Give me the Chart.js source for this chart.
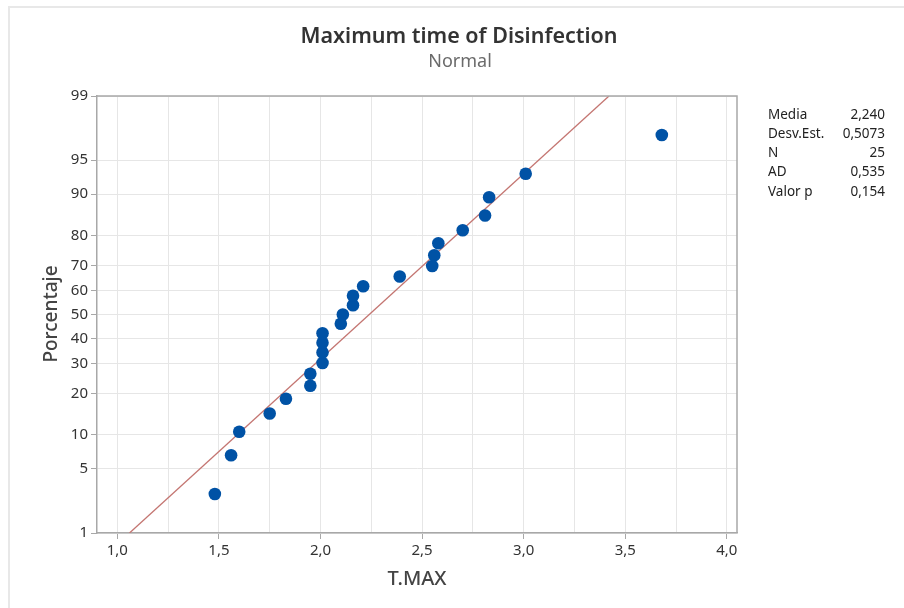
<html>

<head>
    <meta charset="utf-8">
    <title>Maximum time of Disinfection</title>
    <script src="https://cdn.jsdelivr.net/npm/chart.js@4.4.1/dist/chart.umd.min.js"></script>
    <style>
        body {
            margin: 0;
            background: #ffffff;
        }
    </style>
</head>

<body>
    <canvas id="myChart" width="904" height="608"></canvas>

    <script>
        // T.MAX values (sorted)
        var tmax = [1.48, 1.56, 1.60, 1.75, 1.83, 1.95, 1.95, 2.01, 2.01, 2.01, 2.01, 2.10, 2.11,
            2.16, 2.16, 2.21, 2.39, 2.55, 2.56, 2.58, 2.70, 2.81, 2.83, 3.01, 3.68];
        // percentage (y position) of each point
        var pct = [2.8, 6.7, 10.6, 14.6, 18.5, 22.4, 26.4, 30.3, 34.3, 38.2, 42.1, 46.1, 50.0,
            53.9, 57.9, 61.8, 65.7, 69.7, 73.6, 77.6, 81.5, 85.4, 89.4, 93.3, 97.2];

        // fitted normal line, end points
        var fitX = [1.060, 3.420];
        var fitPct = [1, 99];

        // ticks
        var yTickPct = [1, 5, 10, 20, 30, 40, 50, 60, 70, 80, 90, 95, 99];
        var xTicks = [1.0, 1.25, 1.5, 1.75, 2.0, 2.25, 2.5, 2.75, 3.0, 3.25, 3.5, 3.75, 4.0];

        // stats box
        var statLabels = ['Media', 'Desv.Est.', 'N', 'AD', 'Valor p'];
        var statValues = ['2,240', '0,5073', '25', '0,535', '0,154'];

        var FONT = "'Noto Sans', 'DejaVu Sans', sans-serif";

        // inverse normal cdf (Acklam), p in (0,1)
        function normInv(p) {
            var a = [-3.969683028665376e+01, 2.209460984245205e+02, -2.759285104469687e+02,
                1.383577518672690e+02, -3.066479806614716e+01, 2.506628277459239e+00];
            var b = [-5.447609879822406e+01, 1.615858368580409e+02, -1.556989798598866e+02,
                6.680131188771972e+01, -1.328068155288572e+01];
            var c = [-7.784894002430293e-03, -3.223964580411365e-01, -2.400758277161838e+00,
                -2.549732539343734e+00, 4.374664141464968e+00, 2.938163982698783e+00];
            var d = [7.784695709041462e-03, 3.224671290700398e-01, 2.445134137142996e+00,
                3.754408661907416e+00];
            var pl = 0.02425, q, r;
            if (p < pl) {
                q = Math.sqrt(-2 * Math.log(p));
                return (((((c[0] * q + c[1]) * q + c[2]) * q + c[3]) * q + c[4]) * q + c[5]) /
                    ((((d[0] * q + d[1]) * q + d[2]) * q + d[3]) * q + 1);
            }
            if (p > 1 - pl) {
                q = Math.sqrt(-2 * Math.log(1 - p));
                return -(((((c[0] * q + c[1]) * q + c[2]) * q + c[3]) * q + c[4]) * q + c[5]) /
                    ((((d[0] * q + d[1]) * q + d[2]) * q + d[3]) * q + 1);
            }
            q = p - 0.5;
            r = q * q;
            return (((((a[0] * r + a[1]) * r + a[2]) * r + a[3]) * r + a[4]) * r + a[5]) * q /
                (((((b[0] * r + b[1]) * r + b[2]) * r + b[3]) * r + b[4]) * r + 1);
        }

        var zMin = normInv(0.01);
        var zMax = normInv(0.99);

        var points = tmax.map(function (v, i) { return { x: v, y: normInv(pct[i] / 100) }; });
        var fitLine = fitX.map(function (v, i) { return { x: v, y: normInv(fitPct[i] / 100) }; });

        // extra texts + frame
        var decorPlugin = {
            id: 'decor',
            beforeDraw: function (chart) {
                var ctx = chart.ctx;
                ctx.save();
                ctx.fillStyle = '#ffffff';
                ctx.fillRect(0, 0, chart.width, chart.height);
                ctx.strokeStyle = '#e8e8e8';
                ctx.lineWidth = 2;
                ctx.beginPath();
                ctx.moveTo(9, chart.height);
                ctx.lineTo(9, 7);
                ctx.lineTo(chart.width, 7);
                ctx.stroke();
                ctx.restore();
            },
            afterDraw: function (chart) {
                var ctx = chart.ctx;
                var area = chart.chartArea;
                ctx.save();

                // top/right frame of plot area
                ctx.strokeStyle = '#a8a8a8';
                ctx.lineWidth = 1.5;
                ctx.beginPath();
                ctx.moveTo(area.left, area.top);
                ctx.lineTo(area.right, area.top);
                ctx.lineTo(area.right, area.bottom);
                ctx.stroke();

                ctx.textBaseline = 'middle';
                ctx.textAlign = 'center';

                ctx.fillStyle = '#333333';
                ctx.font = '600 21.5px ' + FONT;
                ctx.fillText('Maximum time of Disinfection', 459, 37);

                ctx.fillStyle = '#6b6b6b';
                ctx.font = '18px ' + FONT;
                ctx.fillText('Normal', 460, 62);

                ctx.fillStyle = '#444444';
                ctx.font = '500 20px ' + FONT;
                ctx.fillText('T.MAX', 417, 579);

                ctx.save();
                ctx.translate(52, 314);
                ctx.rotate(-Math.PI / 2);
                ctx.font = '500 19px ' + FONT;
                ctx.fillText('Porcentaje', 0, 0);
                ctx.restore();

                ctx.fillStyle = '#222222';
                ctx.font = '13.5px ' + FONT;
                for (var i = 0; i < statLabels.length; i++) {
                    var y = 115 + i * 19.2;
                    ctx.textAlign = 'left';
                    ctx.fillText(statLabels[i], 768, y);
                    ctx.textAlign = 'right';
                    ctx.fillText(statValues[i], 885, y);
                }
                ctx.restore();
            }
        };

        var config = {
            type: 'scatter',
            data: {
                datasets: [
                    {
                        label: 'T.MAX',
                        data: points,
                        order: 0,
                        backgroundColor: '#0052a5',
                        borderColor: '#0052a5',
                        pointRadius: 6.3,
                        pointHoverRadius: 6.3,
                        borderWidth: 0
                    },
                    {
                        label: 'Ajuste',
                        type: 'line',
                        data: fitLine,
                        order: 1,
                        borderColor: '#c47571',
                        borderWidth: 1.3,
                        pointRadius: 0,
                        fill: false,
                        tension: 0
                    }
                ]
            },
            options: {
                responsive: false,
                animation: false,
                layout: {
                    padding: { left: 0, right: 167, top: 96, bottom: 0 }
                },
                plugins: {
                    legend: { display: false },
                    title: { display: false },
                    tooltip: { enabled: false }
                },
                scales: {
                    x: {
                        type: 'linear',
                        min: 0.9,
                        max: 4.05,
                        afterFit: function (scale) { scale.height = 75; },
                        afterBuildTicks: function (scale) {
                            scale.ticks = xTicks.map(function (v) { return { value: v }; });
                        },
                        ticks: {
                            padding: 3,
                            color: '#333333',
                            font: { family: FONT, size: 15 },
                            maxRotation: 0,
                            autoSkip: false,
                            callback: function (value) {
                                if (Math.abs(value * 2 - Math.round(value * 2)) > 1e-6) return '';
                                return value.toFixed(1).replace('.', ',');
                            }
                        },
                        grid: {
                            color: '#e6e6e6',
                            lineWidth: 1,
                            tickLength: 6,
                            tickColor: function (c) {
                                if (!c.tick) return '#a8a8a8';
                                var v = c.tick.value;
                                return Math.abs(v * 2 - Math.round(v * 2)) > 1e-6 ? 'rgba(0,0,0,0)' : '#a8a8a8';
                            }
                        },
                        border: { color: '#a8a8a8', width: 1.5 }
                    },
                    y: {
                        type: 'linear',
                        min: zMin,
                        max: zMax,
                        afterFit: function (scale) { scale.width = 97; },
                        afterBuildTicks: function (scale) {
                            scale.ticks = yTickPct.map(function (p) { return { value: normInv(p / 100) }; });
                        },
                        ticks: {
                            padding: 3,
                            color: '#333333',
                            font: { family: FONT, size: 15 },
                            autoSkip: false,
                            callback: function (value, index) {
                                return String(yTickPct[index]);
                            }
                        },
                        grid: {
                            color: '#e6e6e6',
                            lineWidth: 1,
                            tickLength: 6,
                            tickColor: '#a8a8a8'
                        },
                        border: { color: '#a8a8a8', width: 1.5 }
                    }
                }
            },
            plugins: [decorPlugin]
        };

        var myChart = new Chart(document.getElementById('myChart'), config);
    </script>
</body>

</html>
